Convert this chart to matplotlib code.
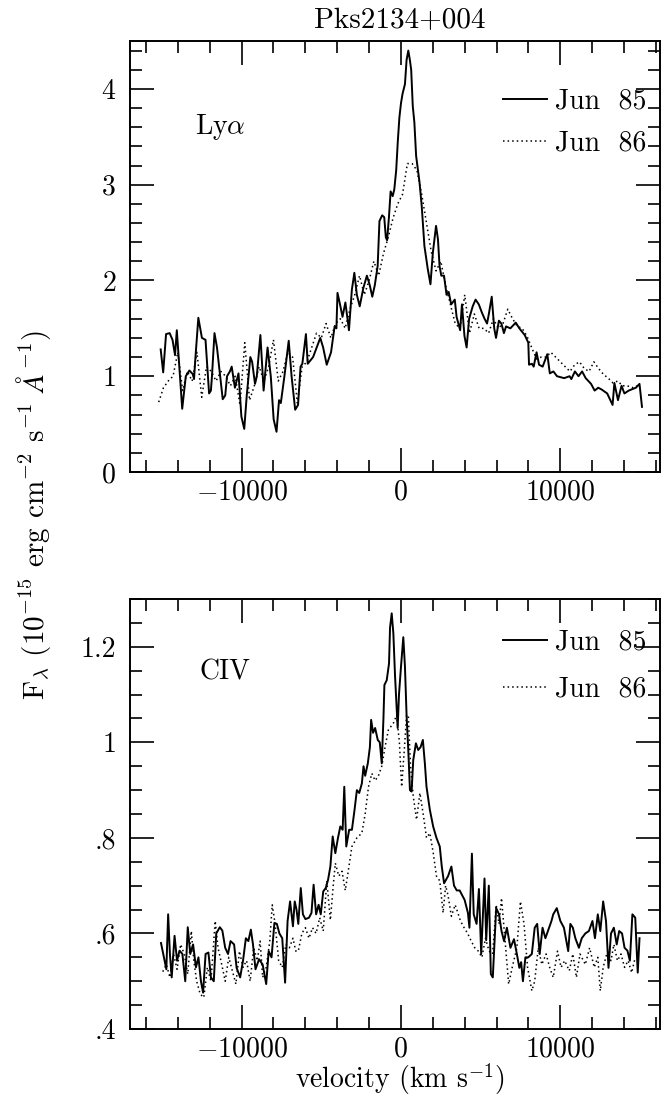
import numpy as np
import matplotlib
matplotlib.use('Agg')
import matplotlib.pyplot as plt
from matplotlib.ticker import MultipleLocator, FuncFormatter

# Pks2134+004, Ly alpha and CIV line profiles, Jun 85 vs Jun 86
# values (velocity in km/s, flux in 1e-15 units)

# Ly alpha, Jun 85 (solid)
v_lya85 = [-15075, -14918, -14738, -14513, -14333, -14175, -14063, -13725, -13500, -13275,
           -13050, -12983, -12893, -12713, -12488, -12263, -12038, -11925, -11858, -11700,
           -11543, -11183, -11025, -10913, -10733, -10620, -10418, -10193, -10013, -9833,
           -9675, -9450, -9338, -9158, -9045, -8820, -8708, -8618, -8370, -8168,
           -7988, -7808, -7650, -7538, -7313, -7043, -6863, -6638, -6458, -6300,
           -6188, -5963, -5850, -5513, -5288, -5063, -4883, -4658, -4388, -4163,
           -4050, -3983, -3825, -3668, -3488, -3263, -3083, -2925, -2768, -2588,
           -2363, -2138, -1958, -1800, -1643, -1463, -1350, -1180, -1050, -950,
           -870, -760, -650, -520, -420, -300, -200, -100, 0, 100,
           250, 350, 460, 560, 640, 740, 840, 950, 1160, 1300,
           1470, 1680, 1850, 2000, 2200, 2320, 2420, 2530, 2700, 2858,
           2993, 3150, 3375, 3488, 3713, 3825, 3983, 4118, 4275, 4500,
           4680, 4883, 5063, 5243, 5400, 5513, 5693, 5850, 5963, 6143,
           6300, 6458, 6593, 6863, 7200, 7425, 7763, 7988, 8033, 8213,
           8325, 8505, 8663, 8888, 9180, 9338, 9563, 9788, 10238, 10575,
           10688, 10913, 11138, 11363, 11588, 11925, 12150, 12375, 12600, 12938,
           13275, 13388, 13613, 13838, 14018, 14288, 14738, 14963, 15120]
f_lya85 = [1.28, 1.04, 1.44, 1.45, 1.38, 1.22, 1.48, 0.66, 1.00, 1.06,
           1.02, 0.97, 1.20, 1.61, 1.40, 1.38, 0.82, 0.85, 1.00, 1.45,
           1.30, 0.76, 0.80, 1.00, 1.05, 1.10, 0.88, 1.03, 0.58, 0.45,
           0.80, 1.20, 1.15, 0.92, 1.00, 1.43, 1.10, 0.85, 1.30, 1.00,
           0.55, 0.42, 0.75, 0.72, 1.00, 1.37, 1.00, 0.65, 0.70, 1.10,
           1.13, 1.44, 1.13, 1.20, 1.30, 1.40, 1.30, 1.12, 1.25, 1.52,
           1.50, 1.87, 1.75, 1.62, 1.77, 1.48, 1.90, 2.08, 1.85, 1.73,
           1.92, 2.05, 1.95, 1.83, 1.95, 2.15, 2.62, 2.68, 2.66, 2.45,
           2.42, 2.65, 2.93, 2.88, 2.95, 3.15, 3.45, 3.70, 3.85, 3.95,
           4.05, 4.30, 4.40, 4.30, 4.20, 3.82, 3.65, 3.30, 3.03, 2.78,
           2.36, 2.12, 1.96, 2.29, 2.57, 2.43, 2.15, 2.05, 2.05, 1.85,
           1.88, 1.75, 1.80, 1.62, 1.48, 1.75, 1.42, 1.30, 1.60, 1.73,
           1.80, 1.75, 1.67, 1.60, 1.55, 1.65, 1.83, 1.50, 1.40, 1.58,
           1.55, 1.45, 1.52, 1.50, 1.56, 1.50, 1.43, 1.35, 1.12, 1.13,
           1.10, 1.25, 1.12, 1.10, 1.23, 1.03, 1.05, 1.00, 0.98, 1.00,
           0.97, 1.05, 1.00, 1.05, 0.98, 0.92, 0.85, 0.88, 0.86, 0.82,
           0.70, 0.93, 0.75, 0.90, 0.82, 0.85, 0.88, 0.92, 0.68]

# Ly alpha, Jun 86 (dotted), read every 300 km/s from -15200
v_lya86 = [-15200, -14900, -14600, -14300, -14000, -13700, -13400, -13100, -12800, -12500,
           -12200, -11900, -11600, -11300, -11000, -10700, -10400, -10100, -9800, -9500,
           -9200, -8900, -8600, -8300, -8000, -7700, -7400, -7100, -6800, -6500,
           -6200, -5900, -5600, -5300, -5000, -4700, -4400, -4100, -3800, -3500,
           -3200, -2900, -2600, -2300, -2000, -1700, -1400, -1100, -800, -500,
           -200, 100, 400, 700, 1000, 1300, 1600, 1900, 2200, 2500,
           2800, 3100, 3400, 3700, 4000, 4300, 4600, 4900, 5200, 5500,
           5800, 6100, 6400, 6700, 7000, 7300, 7600, 7900, 8200, 8500,
           8800, 9100, 9400, 9700, 10000, 10300, 10600, 10900, 11200, 11500,
           11800, 12100, 12400, 12700, 13000, 13300, 13600, 13900, 14200, 14500,
           14800]
f_lya86 = [0.73, 0.88, 0.95, 1.00, 1.25, 0.85, 1.05, 0.95, 1.25, 0.78,
           1.10, 1.05, 0.95, 1.05, 1.00, 0.90, 1.00, 0.70, 1.35, 0.75,
           0.90, 1.10, 0.95, 1.10, 1.38, 0.95, 1.05, 1.25, 1.20, 0.72,
           1.10, 1.15, 1.30, 1.45, 1.40, 1.55, 1.40, 1.55, 1.60, 1.50,
           1.70, 1.85, 2.05, 1.85, 2.00, 2.20, 2.05, 2.28, 2.45, 2.65,
           2.80, 2.90, 3.22, 3.22, 3.15, 2.90, 2.60, 2.30, 2.10, 2.20,
           1.95, 1.75, 1.55, 1.50, 1.85, 1.45, 1.65, 1.50, 1.50, 1.45,
           1.60, 1.50, 1.55, 1.70, 1.60, 1.52, 1.50, 1.42, 1.30, 1.18,
           1.20, 1.20, 1.25, 1.20, 1.15, 1.10, 1.05, 1.12, 1.15, 1.08,
           1.05, 1.15, 1.08, 1.02, 0.98, 0.93, 0.95, 0.90, 0.90, 0.88,
           0.90]

# CIV, Jun 85 (solid)
v_civ85 = [-15055, -14876, -14720, -14607, -14496, -14384, -14205, -14048, -13892, -13713,
           -13534, -13377, -13220, -13042, -12863, -12706, -12549, -12415, -12258, -12080,
           -11923, -11744, -11588, -11364, -11207, -11028, -10850, -10693, -10469, -10312,
           -10089, -9910, -9731, -9575, -9418, -9284, -9127, -8903, -8679, -8456,
           -8299, -8120, -7941, -7785, -7628, -7449, -7270, -7114, -6957, -6778,
           -6666, -6554, -6442, -6286, -6152, -5995, -5771, -5615, -5481, -5324,
           -5167, -5033, -4877, -4720, -4576, -4430, -4285, -4118, -3952, -3806,
           -3660, -3557, -3432, -3250, -3078, -2912, -2766, -2620, -2454, -2350,
           -2246, -2080, -1950, -1872, -1750, -1622, -1456, -1330, -1206, -1100,
           -1040, -894, -750, -686, -582, -478, -374, -270, -208, -125,
           0, 146, 250, 354, 458, 562, 666, 770, 936, 1082,
           1230, 1373, 1498, 1602, 1810, 2018, 2226, 2434, 2560, 2704,
           2954, 3162, 3328, 3500, 3682, 3994, 4200, 4295, 4450, 4564,
           4743, 4890, 5033, 5240, 5347, 5510, 5637, 5760, 5973, 6152,
           6308, 6465, 6644, 6868, 7091, 7270, 7427, 7539, 7650, 7807,
           7986, 8210, 8389, 8545, 8702, 8881, 9060, 9216, 9440, 9552,
           9775, 10000, 10223, 10491, 10626, 10782, 10939, 11163, 11341, 11565,
           11789, 12012, 12169, 12348, 12505, 12684, 12863, 13019, 13176, 13355,
           13534, 13690, 13869, 14026, 14205, 14361, 14518, 14697, 14853, 14965]
f_civ85 = [0.580, 0.550, 0.525, 0.640, 0.557, 0.508, 0.595, 0.543, 0.564, 0.557,
           0.500, 0.613, 0.557, 0.577, 0.529, 0.550, 0.500, 0.476, 0.557, 0.560,
           0.508, 0.500, 0.600, 0.613, 0.606, 0.570, 0.557, 0.584, 0.577, 0.528,
           0.508, 0.543, 0.590, 0.584, 0.608, 0.577, 0.525, 0.546, 0.535, 0.494,
           0.563, 0.550, 0.622, 0.620, 0.600, 0.590, 0.497, 0.626, 0.667, 0.615,
           0.667, 0.650, 0.620, 0.695, 0.640, 0.630, 0.633, 0.643, 0.702, 0.640,
           0.660, 0.640, 0.688, 0.695, 0.712, 0.740, 0.803, 0.768, 0.800, 0.824,
           0.817, 0.907, 0.782, 0.817, 0.817, 0.859, 0.900, 0.894, 0.914, 0.950,
           0.930, 0.956, 0.990, 1.047, 1.020, 1.030, 1.005, 1.000, 0.956, 1.050,
           1.120, 1.130, 1.165, 1.240, 1.270, 1.228, 1.140, 1.070, 1.030, 1.100,
           1.158, 1.220, 1.158, 1.054, 0.984, 0.900, 0.897, 0.963, 0.998, 0.984,
           0.990, 1.005, 0.956, 0.907, 0.859, 0.824, 0.800, 0.782, 0.740, 0.705,
           0.720, 0.740, 0.700, 0.690, 0.690, 0.670, 0.643, 0.612, 0.767, 0.640,
           0.620, 0.693, 0.557, 0.715, 0.586, 0.700, 0.515, 0.508, 0.653, 0.640,
           0.605, 0.584, 0.612, 0.570, 0.588, 0.557, 0.528, 0.540, 0.500, 0.550,
           0.550, 0.557, 0.612, 0.620, 0.557, 0.612, 0.590, 0.605, 0.626, 0.640,
           0.653, 0.626, 0.612, 0.563, 0.620, 0.612, 0.590, 0.570, 0.590, 0.600,
           0.605, 0.626, 0.590, 0.640, 0.605, 0.667, 0.626, 0.528, 0.600, 0.612,
           0.577, 0.605, 0.600, 0.570, 0.564, 0.543, 0.640, 0.633, 0.518, 0.590]

# CIV, Jun 86 (dotted)
v_civ86 = [-14943, -14720, -14496, -14272, -14048, -13825, -13601, -13377, -13154, -12997,
           -12818, -12594, -12370, -12147, -11923, -11655, -11476, -11207, -11028, -10805,
           -10581, -10357, -10134, -9910, -9686, -9462, -9239, -9015, -8836, -8679,
           -8456, -8232, -8076, -7897, -7673, -7449, -7225, -7002, -6778, -6599,
           -6442, -6219, -5995, -5771, -5548, -5324, -5100, -4877, -4653, -4430,
           -4250, -4118, -3900, -3700, -3494, -3328, -3078, -2766, -2454, -2246,
           -2038, -1830, -1620, -1414, -1206, -1000, -790, -478, -270, -100,
           42, 200, 354, 458, 600, 770, 978, 1186, 1394, 1602,
           1810, 2018, 2226, 2434, 2642, 2800, 2950, 3162, 3400, 3736,
           3960, 4183, 4407, 4630, 4854, 5078, 5302, 5525, 5749, 5973,
           6152, 6308, 6532, 6756, 6980, 7270, 7494, 7718, 7941, 8210,
           8389, 8612, 8836, 9105, 9328, 9552, 9820, 10044, 10268, 10559,
           10782, 11006, 11230, 11565, 11833, 12124, 12348, 12505, 12684, 12908,
           13176, 13355, 13579, 13802, 14026, 14250, 14473, 14697]
f_civ86 = [0.520, 0.535, 0.508, 0.557, 0.525, 0.577, 0.557, 0.515, 0.605, 0.543,
           0.500, 0.473, 0.466, 0.529, 0.500, 0.626, 0.570, 0.529, 0.500, 0.550,
           0.522, 0.494, 0.563, 0.529, 0.543, 0.500, 0.570, 0.543, 0.584, 0.508,
           0.529, 0.584, 0.660, 0.620, 0.543, 0.529, 0.577, 0.570, 0.590, 0.563,
           0.563, 0.600, 0.612, 0.590, 0.612, 0.600, 0.633, 0.605, 0.710, 0.628,
           0.700, 0.747, 0.720, 0.730, 0.690, 0.726, 0.782, 0.800, 0.810, 0.850,
           0.907, 0.935, 0.920, 0.930, 0.950, 0.990, 1.026, 1.040, 1.057, 1.000,
           0.907, 0.980, 1.057, 1.057, 0.950, 0.887, 0.838, 0.894, 0.850, 0.800,
           0.810, 0.770, 0.720, 0.710, 0.643, 0.700, 0.680, 0.636, 0.660, 0.626,
           0.612, 0.600, 0.584, 0.570, 0.563, 0.550, 0.590, 0.563, 0.557, 0.660,
           0.620, 0.674, 0.584, 0.494, 0.529, 0.570, 0.667, 0.620, 0.529, 0.480,
           0.500, 0.570, 0.535, 0.557, 0.529, 0.508, 0.563, 0.529, 0.543, 0.522,
           0.557, 0.508, 0.557, 0.535, 0.570, 0.529, 0.550, 0.480, 0.529, 0.557,
           0.543, 0.577, 0.543, 0.557, 0.529, 0.543, 0.518, 0.550]

plt.rcParams['font.family'] = 'serif'
plt.rcParams['font.serif'] = ['cmr10']
plt.rcParams['mathtext.fontset'] = 'cm'
plt.rcParams['axes.formatter.use_mathtext'] = True

fs = 20      # tick labels, legend, panel names
fl = 21      # title and axis labels
W, H = 666, 1095
fig = plt.figure(figsize=(W / 100, H / 100), dpi=100)

def box(l, r, t, b):
    return [l / W, 1 - b / H, (r - l) / W, (b - t) / H]

ax1 = fig.add_axes(box(130, 660, 41, 472))
ax2 = fig.add_axes(box(130, 660, 599, 1029))

def vel_fmt(v, pos):
    return '0' if v == 0 else r'$%d$' % v

def frac_fmt(y, pos):
    s = '%g' % y
    return s[1:] if s.startswith('0.') else s

for ax in (ax1, ax2):
    ax.set_xlim(-17000, 16250)
    ax.xaxis.set_major_locator(MultipleLocator(10000))
    ax.xaxis.set_minor_locator(MultipleLocator(2000))
    ax.xaxis.set_major_formatter(FuncFormatter(vel_fmt))
    ax.tick_params(which='both', direction='in', top=True, right=True,
                   width=1.2, labelsize=fs)
    ax.tick_params(axis='x', pad=5)
    ax.tick_params(axis='y', pad=10)
    ax.tick_params(which='major', length=17)
    ax.tick_params(which='minor', length=8.5)
    for s in ax.spines.values():
        s.set_linewidth(1.4)

# Ly alpha panel
ax1.plot(v_lya85, f_lya85, color='black', lw=1.4, label='Jun  85')
ax1.plot(v_lya86, f_lya86, color='black', lw=1.1, ls=(0, (1, 2)), label='Jun  86')
ax1.set_ylim(0, 4.5)
ax1.yaxis.set_major_locator(MultipleLocator(1))
ax1.yaxis.set_minor_locator(MultipleLocator(0.2))
ax1.text(0.17, 0.80, r'Ly$\alpha$', transform=ax1.transAxes, fontsize=fs,
         ha='center', va='center')
ax1.legend(loc='upper right', bbox_to_anchor=(0.975, 0.89), frameon=False,
           fontsize=fs, handlelength=1.6, handletextpad=0.3, labelspacing=0.55,
           borderpad=0, borderaxespad=0)

# CIV panel
ax2.plot(v_civ85, f_civ85, color='black', lw=1.4, label='Jun  85')
ax2.plot(v_civ86, f_civ86, color='black', lw=1.1, ls=(0, (1, 2)), label='Jun  86')
ax2.set_ylim(0.4, 1.3)
ax2.yaxis.set_major_locator(MultipleLocator(0.2))
ax2.yaxis.set_minor_locator(MultipleLocator(0.05))
ax2.yaxis.set_major_formatter(FuncFormatter(frac_fmt))
ax2.text(0.18, 0.83, 'CIV', transform=ax2.transAxes, fontsize=fs,
         ha='center', va='center')
ax2.legend(loc='upper right', bbox_to_anchor=(0.975, 0.93), frameon=False,
           fontsize=fs, handlelength=1.6, handletextpad=0.3, labelspacing=0.75,
           borderpad=0, borderaxespad=0)

fig.text(400 / W, 1 - 21 / H, 'Pks2134+004', fontsize=fl, ha='center', va='center')
fig.text(400 / W, 1 - 1079 / H, r'velocity (km s$^{-1}$)', fontsize=20,
         ha='center', va='center')
fig.text(34 / W, 1 - 515 / H,
         r'F$_\lambda$ (10$^{-15}$ erg cm$^{-2}$ s$^{-1}$ $\AA^{-1}$)',
         fontsize=fl, rotation=90, ha='center', va='center')

fig.savefig('out.png', dpi=100)
